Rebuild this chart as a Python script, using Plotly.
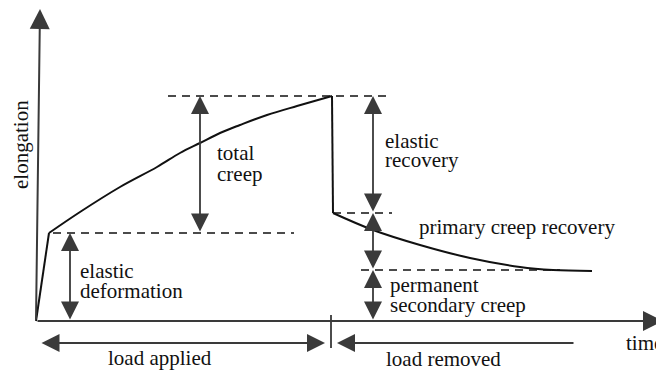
import plotly.graph_objects as go

# Creep curve, time vs elongation (origin = bottom-left corner of the axes)
# loading: instantaneous elastic jump, then creep
t_jump = [0, 13]
e_jump = [0, 88]
t_creep = [13, 44, 84, 121, 144, 164, 184, 204, 231, 261, 296]
e_creep = [88, 109, 134, 154, 168, 178, 188, 196, 206, 215, 225]

# unloading: elastic recovery drop, then primary creep recovery
t_drop = [296, 297]
e_drop = [225, 108]
t_recov = [297, 337, 384, 434, 484, 517, 556]
e_recov = [108, 91, 76, 63, 54, 51, 50]

# dashed reference levels
dash_level = [225, 88, 108, 51]
dash_t0 = [132, 17, 297, 325]
dash_t1 = [352, 258, 356, 524]

# double-headed dimension arrows
dim_t = [34, 164, 337, 337, 337]
dim_lo = [0, 88, 108, 51, 0]
dim_hi = [88, 225, 225, 108, 51]

# phase arrows under the time axis
phase_e = -22
t_removed = 295

# labels (text, t, e)
labels = [
    ("total", 179, 168),
    ("creep", 179, 147),
    ("elastic", 42, 50),
    ("deformation", 42, 30),
    ("elastic", 347, 180),
    ("recovery", 347, 161),
    ("primary creep recovery", 381, 94),
    ("permanent", 352, 36),
    ("secondary creep", 352, 16),
    ("time", 588, -22),
]
bottom_labels = [("load applied", 124, -37), ("load removed", 407, -38)]

INK = "#111111"
HEAD = "#3a3a3a"
FONT = dict(family="Liberation Serif", size=21, color=INK)

fig = go.Figure()

for tx, ey, shape in [(t_jump, e_jump, "linear"), (t_creep, e_creep, "spline"),
                      (t_drop, e_drop, "linear"), (t_recov, e_recov, "spline")]:
    fig.add_trace(go.Scatter(x=tx, y=ey, mode="lines",
                             line=dict(color=INK, width=2, shape=shape),
                             hoverinfo="skip", showlegend=False))

for lvl, a, b in zip(dash_level, dash_t0, dash_t1):
    fig.add_trace(go.Scatter(x=[a, b], y=[lvl, lvl], mode="lines",
                             line=dict(color=INK, width=1.6, dash="8px,6px"),
                             hoverinfo="skip", showlegend=False))


def arrow(x0, y0, x1, y1, both=False, width=1.8):
    fig.add_annotation(x=x1, y=y1, ax=x0, ay=y0, xref="x", yref="y",
                       axref="x", ayref="y", text="", showarrow=True,
                       arrowhead=2, arrowsize=2, arrowwidth=width,
                       arrowcolor=HEAD, standoff=0, startstandoff=0,
                       arrowside="end+start" if both else "end",
                       startarrowhead=2, startarrowsize=2)


# axes
arrow(0, 0, 4, 312, width=2)
arrow(0, 0, 627, 0, width=2)

for t, lo, hi in zip(dim_t, dim_lo, dim_hi):
    arrow(t, lo, t, hi, both=True)

arrow(4, phase_e, 289, phase_e, both=True)
arrow(539, phase_e, 301, phase_e)
fig.add_trace(go.Scatter(x=[t_removed, t_removed], y=[6, -27], mode="lines",
                         line=dict(color=INK, width=1.5),
                         hoverinfo="skip", showlegend=False))

for txt, t, e in labels:
    fig.add_annotation(x=t, y=e, text=txt, showarrow=False, xanchor="left",
                       yanchor="middle", font=FONT)
for txt, t, e in bottom_labels:
    fig.add_annotation(x=t, y=e, text=txt, showarrow=False, xanchor="center",
                       yanchor="middle", font=FONT)

fig.add_annotation(x=-15, y=176, text="elongation", textangle=-90,
                   showarrow=False, xanchor="center", yanchor="middle", font=FONT)

# page body has an 8px margin, so the figure is 8px smaller than the window
fig.update_layout(
    width=656, height=364,
    margin=dict(l=0, r=0, t=0, b=0),
    paper_bgcolor="white", plot_bgcolor="white",
    xaxis=dict(range=[-28, 628], visible=False, fixedrange=True),
    yaxis=dict(range=[-51, 313], visible=False, fixedrange=True),
)

fig.write_html("out.html")
